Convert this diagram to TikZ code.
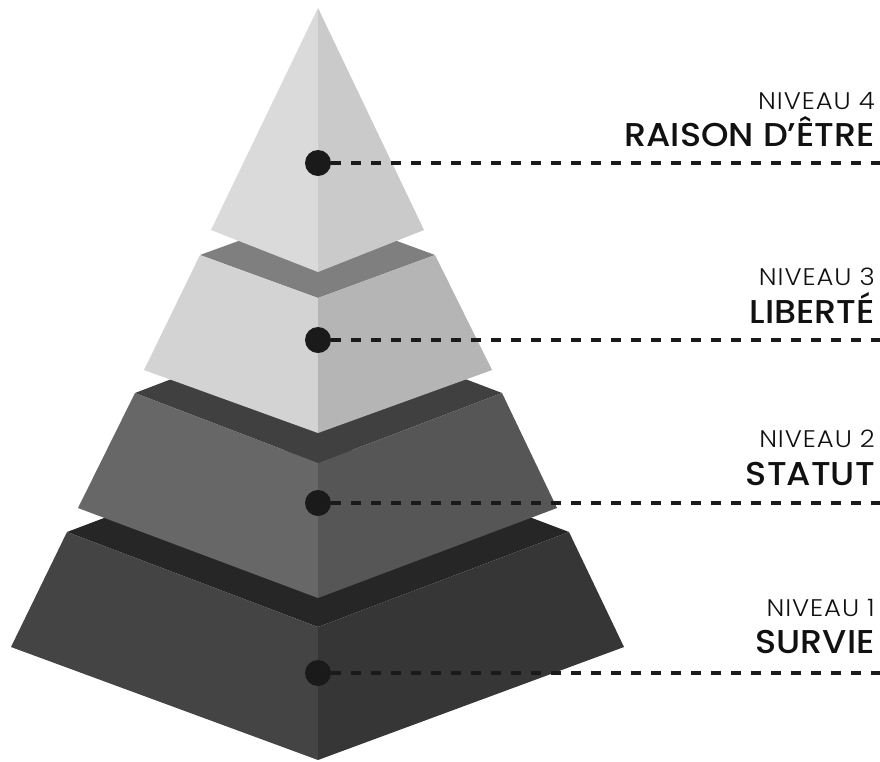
\documentclass[tikz,border=0pt]{standalone}
\usepackage{fontspec}
\newfontfamily\titlefont{Poppins}[UprightFont={Poppins Medium},FakeStretch=1.06]
\newfontfamily\subfont{Poppins}[UprightFont={Poppins Light},FakeStretch=1.08,LetterSpace=4]
\definecolor{topA}{HTML}{DADADA}
\definecolor{topB}{HTML}{CACACA}
\definecolor{lthreeT}{HTML}{7F7F7F}
\definecolor{lthreeA}{HTML}{D3D3D3}
\definecolor{lthreeB}{HTML}{B5B5B5}
\definecolor{ltwoT}{HTML}{404040}
\definecolor{ltwoA}{HTML}{676767}
\definecolor{ltwoB}{HTML}{565656}
\definecolor{loneT}{HTML}{262626}
\definecolor{loneA}{HTML}{444444}
\definecolor{loneB}{HTML}{363636}
\definecolor{ink}{HTML}{1A1A1A}
\definecolor{txt}{HTML}{111111}
\begin{document}
\begin{tikzpicture}[x=1pt,y=-1pt,
  dotmark/.style={circle,fill=ink,minimum size=26pt,inner sep=0pt},
  leader/.style={ink,line width=4pt,dash pattern=on 10pt off 10pt},
  sublabel/.style={anchor=base east,inner sep=0pt,text=txt,font=\subfont\fontsize{24}{24}\selectfont},
  mainlabel/.style={anchor=base east,inner sep=0pt,text=txt,font=\titlefont\fontsize{33}{33}\selectfont}]
\fill[white] (0,0) rectangle (880,761);
\useasboundingbox (0,0) rectangle (880,761);
% level 1
\fill[loneT] (67,532) -- (318,437) -- (569,532) -- (318,627) -- cycle;
\fill[loneA] (67,532) -- (318,627) -- (318,760) -- (11,647) -- cycle;
\fill[loneB] (318,627) -- (569,532) -- (624,647) -- (318,760) -- cycle;
% level 2
\fill[ltwoT] (135,393) -- (318,323) -- (502,393) -- (318,463) -- cycle;
\fill[ltwoA] (135,393) -- (318,463) -- (318,598) -- (78,508) -- cycle;
\fill[ltwoB] (318,463) -- (502,393) -- (557,508) -- (318,598) -- cycle;
% level 3
\fill[lthreeT] (200,255) -- (318,212) -- (435,255) -- (318,298) -- cycle;
\fill[lthreeA] (200,255) -- (318,298) -- (318,433) -- (144,370) -- cycle;
\fill[lthreeB] (318,298) -- (435,255) -- (492,370) -- (318,433) -- cycle;
% top
\fill[topA] (318,8) -- (211,230) -- (318,272) -- cycle;
\fill[topB] (318,8) -- (318,272) -- (424,230) -- cycle;
% dots and leaders
\node[dotmark] (d4) at (318,163) {};
\node[dotmark] (d3) at (318,340) {};
\node[dotmark] (d2) at (318,503) {};
\node[dotmark] (d1) at (318,673) {};
\coordinate (e4) at (880,163);
\coordinate (e3) at (880,340);
\coordinate (e2) at (880,503);
\coordinate (e1) at (880,673);
\draw[leader] (d4.east) -- (e4);
\draw[leader] (d3.east) -- (e3);
\draw[leader] (d2.east) -- (e2);
\draw[leader] (d1.east) -- (e1);
% labels
\node[sublabel] (n4) at (875,109) {NIVEAU 4};
\node[mainlabel] (t4) at (875,146) {RAISON D’ÊTRE};
\node[sublabel] (n3) at (875,285) {NIVEAU 3};
\node[mainlabel] (t3) at (875,323) {LIBERTÉ};
\node[sublabel] (n2) at (875,447) {NIVEAU 2};
\node[mainlabel] (t2) at (875,485) {STATUT};
\node[sublabel] (n1) at (875,616) {NIVEAU 1};
\node[mainlabel] (t1) at (875,653) {SURVIE};
\end{tikzpicture}
\end{document}
